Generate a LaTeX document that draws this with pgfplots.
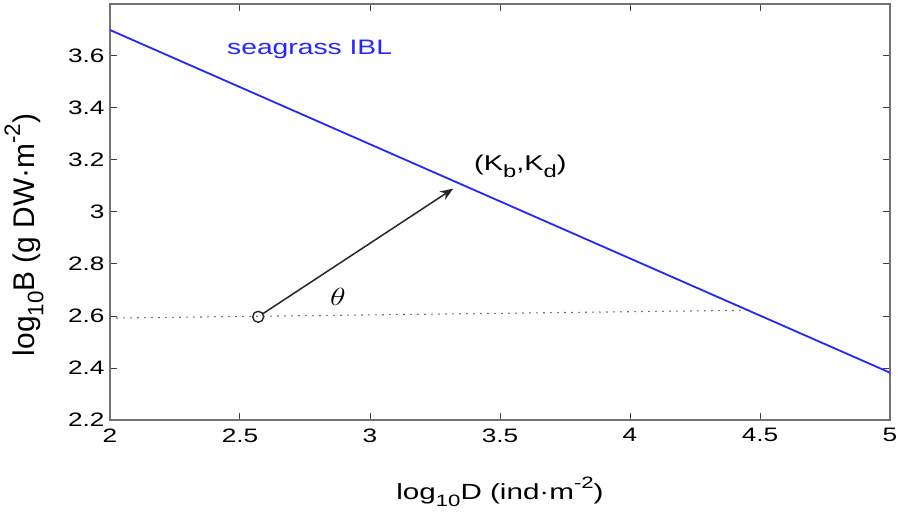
\documentclass[border=0pt]{standalone}
\usepackage{fontspec}
\setmainfont{Liberation Sans}
\newfontfamily\wide[FakeStretch=1.35]{Liberation Sans}
\usepackage{graphicx}
\usepackage{pgfplots}
\pgfplotsset{compat=1.18}
\usetikzlibrary{arrows.meta}
\definecolor{lineblue}{rgb}{0.15,0.15,1}
\definecolor{axgray}{rgb}{0.45,0.45,0.45}
\newcommand\sub[1]{\raisebox{-0.28em}{\scalebox{0.75}{#1}}}
\newcommand\subk[1]{\raisebox{-0.32em}{\scalebox{0.82}{#1}}}
\newcommand\sups[1]{\raisebox{0.5em}{\scalebox{0.75}{#1}}}
\begin{document}
\begin{tikzpicture}
\useasboundingbox (-110bp,-96bp) rectangle (788bp,420bp);
\begin{axis}[
  at={(0,0)}, anchor=south west,
  scale only axis, width=780bp, height=416bp,
  xmin=2, xmax=5, ymin=2.2, ymax=3.8,
  xtick={2,2.5,3,3.5,4,4.5,5},
  ytick={2.2,2.4,2.6,2.8,3,3.2,3.4,3.6},
  tick align=inside,
  major tick length=7bp,
  axis line style={draw=axgray, line width=1.3bp},
  tick style={draw=black!75, line width=1bp},
  /pgf/number format/assume math mode=true,
  tick label style={font=\wide\fontsize{19.5}{22}\selectfont},
  xticklabel style={yshift=-5bp},
  yticklabel style={xshift=-2bp},
  xlabel={log\sub{10}D (ind·m\sups{-2})},
  ylabel={log\sub{10}B (g DW·m\sups{-2})},
  xlabel style={font=\wide\fontsize{22}{26}\selectfont, at={(axis description cs:0.5,-0.192)}, anchor=base},
  ylabel style={font=\fontsize{30}{34}\selectfont, at={(axis description cs:-0.0962,0.445)}, anchor=base},
  clip=false,
]
\addplot[lineblue, line width=1.8bp] coordinates {(2,3.70) (5,2.382)};
\addplot[black!75, line width=1.6bp, line cap=round, dash pattern=on 0bp off 7bp] coordinates {(2,2.592) (4.45,2.622)};
\addplot[black!85, line width=1.5bp, -{Stealth[length=13bp,width=10bp]}, shorten <=5.5bp] coordinates {(2.57,2.597) (3.32,3.09)};
\addplot[only marks, mark=o, mark size=5.5bp, black!85, line width=1.4bp] coordinates {(2.57,2.597)};
\node[anchor=base west, text=lineblue, inner sep=0pt, font=\wide\fontsize{21}{25}\selectfont] at (axis cs:2.45,3.605) {seagrass IBL};
\node[anchor=base west, inner sep=0pt, font=\wide\fontsize{21.5}{25}\selectfont] at (axis cs:3.40,3.16) {(K\subk{b},K\subk{d})};
\node[inner sep=0pt] at (axis cs:2.877,2.672) {\scalebox{1.3}[1]{\fontsize{29}{32}\selectfont$\theta$}};
\end{axis}
\end{tikzpicture}
\end{document}
